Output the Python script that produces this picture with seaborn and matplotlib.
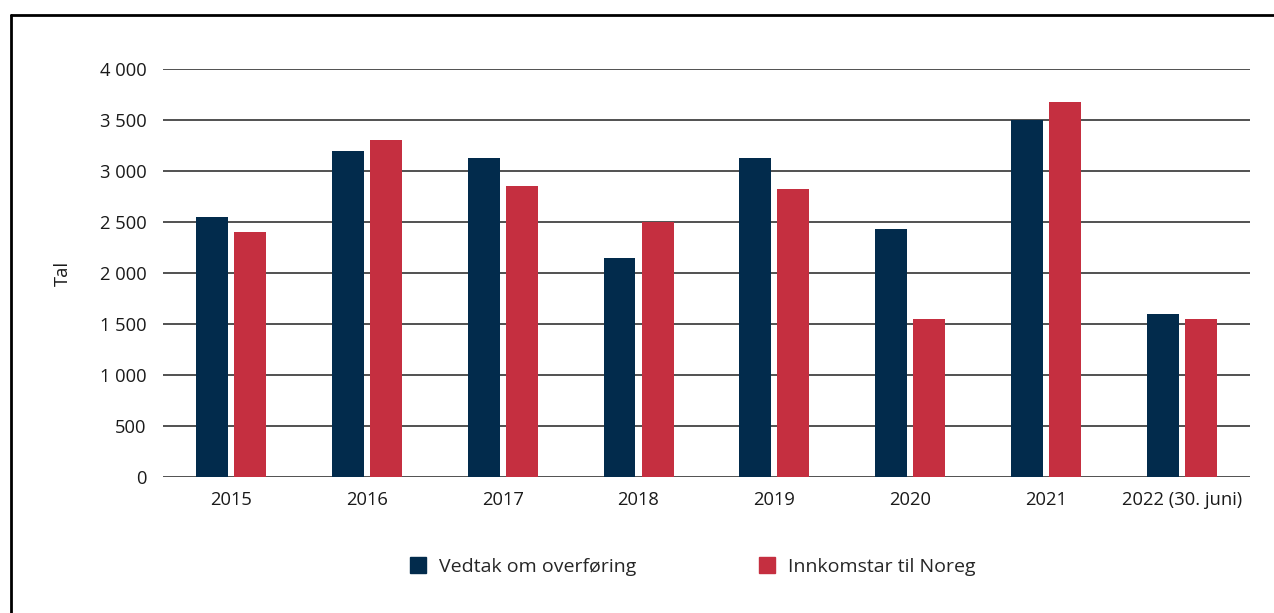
import matplotlib
matplotlib.use("Agg")
import matplotlib.pyplot as plt
import matplotlib.ticker as mticker
import seaborn as sns
import pandas as pd
from matplotlib.lines import Line2D

years = ["2015", "2016", "2017", "2018", "2019", "2020", "2021", "2022 (30. juni)"]
vedtak = [2550, 3200, 3125, 2150, 3125, 2430, 3500, 1600]
innkomstar = [2400, 3300, 2850, 2500, 2825, 1550, 3675, 1550]
series_names = ["Vedtak om overføring", "Innkomstar til Noreg"]
colors = ["#022b4c", "#c52f40"]

df = pd.DataFrame({
    "year": years * 2,
    "value": vedtak + innkomstar,
    "series": [series_names[0]] * len(years) + [series_names[1]] * len(years),
})

sns.set_theme(style="white")
plt.rcParams["font.family"] = ["Open Sans", "DejaVu Sans"]

fig = plt.figure(figsize=(12.74, 6.13), dpi=100)
ax = fig.add_axes([0.128, 0.2219, 0.853, 0.6655])

sns.barplot(data=df, x="year", y="value", hue="series", palette=colors,
            width=0.56, gap=0.16, ax=ax, legend=False, saturation=1, linewidth=0)

ax.set_ylim(0, 4000)
ax.set_xlim(-0.5, len(years) - 0.5)
ax.yaxis.set_major_locator(mticker.MultipleLocator(500))
ax.yaxis.set_major_formatter(mticker.FuncFormatter(lambda v, p: f"{int(v):,}".replace(",", " ")))
ax.grid(axis="y", color="#222222", linewidth=1.1)
ax.set_axisbelow(True)
for s in ax.spines.values():
    s.set_visible(False)
ax.tick_params(axis="both", length=0, labelsize=13.2, colors="#1a1a1a")
ax.tick_params(axis="y", pad=12)
ax.tick_params(axis="x", pad=10)
ax.set_xlabel("")
ax.set_ylabel("Tal", fontsize=13.2, color="#1a1a1a", labelpad=20)

handles = [Line2D([0], [0], marker="s", linestyle="", markersize=11.5,
                  markerfacecolor=c, markeredgecolor=c) for c in colors]
fig.legend(handles, series_names, loc="center", bbox_to_anchor=(0.543, 0.075),
           ncol=2, frameon=False, fontsize=14, columnspacing=6.2, handletextpad=0.6,
           handlelength=1.0)

# frame lines (top and left)
fig.add_artist(Line2D([11 / 1274, 11 / 1274], [0, 1 - 15 / 613], color="black",
                      linewidth=2, transform=fig.transFigure))
fig.add_artist(Line2D([11 / 1274, 1], [1 - 15 / 613, 1 - 15 / 613], color="black",
                      linewidth=2, transform=fig.transFigure))

fig.savefig("out.png", dpi=100)
